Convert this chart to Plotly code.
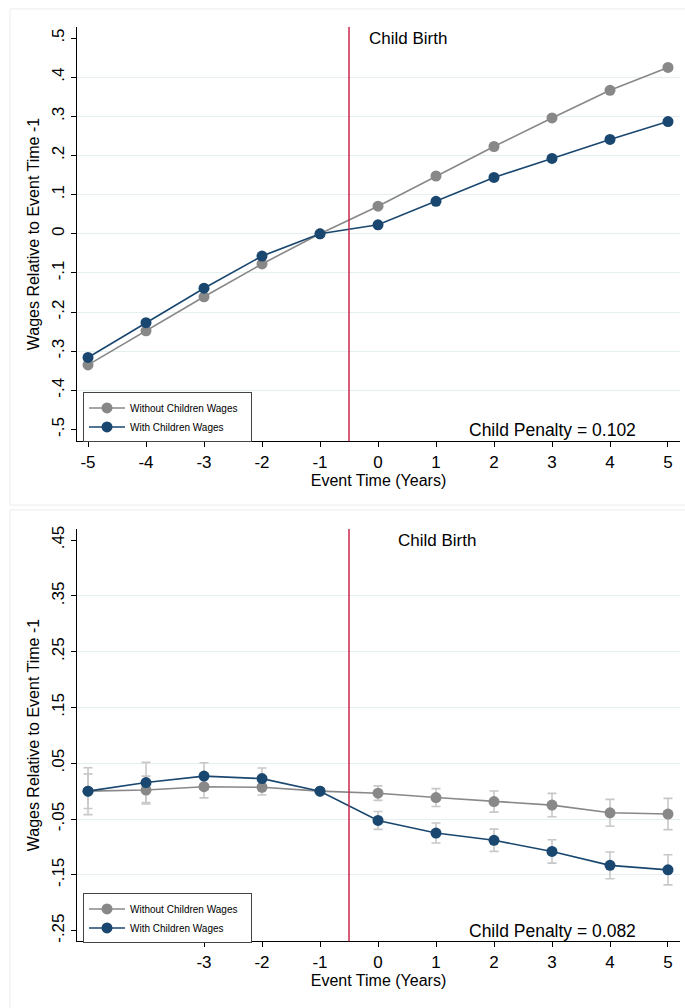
import plotly.graph_objects as go

# ---------------- data ----------------
event_time = [-5, -4, -3, -2, -1, 0, 1, 2, 3, 4, 5]

top_without = [-0.335, -0.248, -0.161, -0.077, 0.0, 0.0705, 0.1476, 0.223, 0.296, 0.3666, 0.425]
top_with = [-0.316, -0.227, -0.139, -0.057, 0.0, 0.023, 0.083, 0.144, 0.1926, 0.241, 0.2867]

bot_without = [0.0, 0.002, 0.008, 0.007, 0.0, -0.0036, -0.0114, -0.0186, -0.025, -0.0388, -0.041]
bot_without_ci = [0.031, 0.025, 0.020, 0.014, 0.0, 0.013, 0.016, 0.019, 0.021, 0.024, 0.028]
bot_with = [0.0, 0.0155, 0.027, 0.0225, 0.0, -0.0525, -0.075, -0.088, -0.108, -0.133, -0.141]
bot_with_ci = [0.042, 0.036, 0.024, 0.019, 0.0, 0.016, 0.018, 0.020, 0.021, 0.024, 0.027]

top_yticks = [0.5, 0.4, 0.3, 0.2, 0.1, 0.0, -0.1, -0.2, -0.3, -0.4, -0.5]
top_ytext = [".5", ".4", ".3", ".2", ".1", "0", "-.1", "-.2", "-.3", "-.4", "-.5"]
bot_yticks = [0.45, 0.35, 0.25, 0.15, 0.05, -0.05, -0.15, -0.25]
bot_ytext = [".45", ".35", ".25", ".15", ".05", "-.05", "-.15", "-.25"]
top_xticks = [-5, -4, -3, -2, -1, 0, 1, 2, 3, 4, 5]
top_xtext = ["-5", "-4", "-3", "-2", "-1", "0", "1", "2", "3", "4", "5"]
bot_xticks = [-3, -2, -1, 0, 1, 2, 3, 4, 5]
bot_xtext = ["-3", "-2", "-1", "0", "1", "2", "3", "4", "5"]

birth_x = -0.5
penalty_top = "Child Penalty = 0.102"
penalty_bot = "Child Penalty = 0.082"

# ---------------- style ----------------
W, H = 685, 1008
GREY = "#888888"
NAVY = "#1a476f"
CI = "#c8c8c8"
RED = "#c8284f"
GRID = "#e6eff0"
FONT = "Liberation Sans, Arial, sans-serif"


def px_x(p):
    return p / W


def px_y(p):
    return 1 - p / H


fig = go.Figure()

# bottom-panel confidence intervals (drawn first, below lines)
for vals, ci in [(bot_without, bot_without_ci), (bot_with, bot_with_ci)]:
    fig.add_trace(go.Scatter(
        x=event_time, y=vals, mode="markers",
        marker=dict(size=1, color="rgba(0,0,0,0)"),
        error_y=dict(type="data", array=ci, visible=True, color=CI, thickness=1.6, width=4.5),
        showlegend=False, hoverinfo="skip", xaxis="x2", yaxis="y2"))

for (yv, name, col, xa, ya, lg) in [
    (top_without, "Without Children Wages", GREY, "x", "y", "legend"),
    (top_with, "With Children Wages", NAVY, "x", "y", "legend"),
    (bot_without, "Without Children Wages", GREY, "x2", "y2", "legend2"),
    (bot_with, "With Children Wages", NAVY, "x2", "y2", "legend2"),
]:
    fig.add_trace(go.Scatter(
        x=event_time, y=yv, mode="lines+markers", name=name + "   ",
        line=dict(color=col, width=1.6),
        marker=dict(color=col, size=11),
        xaxis=xa, yaxis=ya, legend=lg))

# plot-area geometry (pixels)
L, R = 77, 680
top_t, top_b = 24, 440
bot_t, bot_b = 528, 942

axis_common = dict(
    showline=True, linecolor="black", linewidth=1, ticks="outside", ticklen=5,
    tickcolor="black", tickwidth=1, zeroline=False, showgrid=False,
    tickfont=dict(family=FONT, size=17, color="black"),
    title_font=dict(family=FONT, size=16, color="black"),
)

legend_common = dict(
    xanchor="left", yanchor="top",
    bordercolor="#444444", borderwidth=1, bgcolor="white",
    font=dict(family=FONT, size=10, color="black"),
    itemwidth=36, tracegroupgap=0,
)

fig.update_layout(
    width=W, height=H,
    margin=dict(l=0, r=0, t=0, b=0),
    paper_bgcolor="white", plot_bgcolor="white",
    font=dict(family=FONT, color="black"),
    xaxis=dict(domain=[px_x(L), px_x(R)], range=[-5.19, 5.207], anchor="y",
               tickmode="array", tickvals=top_xticks, ticktext=top_xtext,
               title=dict(text="Event Time (Years)", standoff=1), **axis_common),
    yaxis=dict(domain=[px_y(top_b), px_y(top_t)], range=[-0.530, 0.5285], anchor="x",
               tickmode="array", tickvals=top_yticks, ticktext=top_ytext, tickangle=-90,
               minor=dict(tickvals=top_yticks[1:-1], showgrid=True, gridcolor=GRID, gridwidth=1, ticklen=0),
               title=dict(text="Wages Relative to Event Time -1", standoff=5), **axis_common),
    xaxis2=dict(domain=[px_x(L), px_x(R)], range=[-5.19, 5.207], anchor="y2",
                tickmode="array", tickvals=bot_xticks, ticktext=bot_xtext,
                title=dict(text="Event Time (Years)", standoff=1), **axis_common),
    yaxis2=dict(domain=[px_y(bot_b), px_y(bot_t)], range=[-0.269, 0.470], anchor="x2",
                tickmode="array", tickvals=bot_yticks, ticktext=bot_ytext, tickangle=-90,
                minor=dict(tickvals=bot_yticks[1:-1], showgrid=True, gridcolor=GRID, gridwidth=1, ticklen=0),
                title=dict(text="Wages Relative to Event Time -1", standoff=5), **axis_common),
    legend=dict(x=px_x(83), y=px_y(391), **legend_common),
    legend2=dict(x=px_x(83), y=px_y(894), **legend_common),
    showlegend=True,
)

# panel borders
for y0, y1 in [(6, 504), (509, 1012)]:
    fig.add_shape(type="rect", xref="paper", yref="paper",
                  x0=px_x(10), x1=px_x(690), y0=px_y(y1), y1=px_y(y0),
                  line=dict(color="#ececec", width=1), layer="below")

# child birth vertical line
for xa, ya in [("x", "y domain"), ("x2", "y2 domain")]:
    fig.add_shape(type="line", xref=xa, yref=ya, x0=birth_x, x1=birth_x, y0=0, y1=1,
                  line=dict(color=RED, width=1.5))

# annotations
ann = [
    ("Child Birth", 367, 36, "left", 17),
    ("Child Birth", 396, 540, "left", 17),
    (penalty_top, 638, 429, "right", 17.5),
    (penalty_bot, 638, 932, "right", 17.5),
]
for txt, x, y, xa, fs in ann:
    fig.add_annotation(text=txt, xref="paper", yref="paper", x=px_x(x), y=px_y(y),
                       xanchor=xa, yanchor="middle", showarrow=False,
                       font=dict(family=FONT, size=fs, color="black"))

fig.write_html("out.html", config={"displayModeBar": False},
               post_script="document.body.style.margin='0';document.body.style.overflow='hidden';")
